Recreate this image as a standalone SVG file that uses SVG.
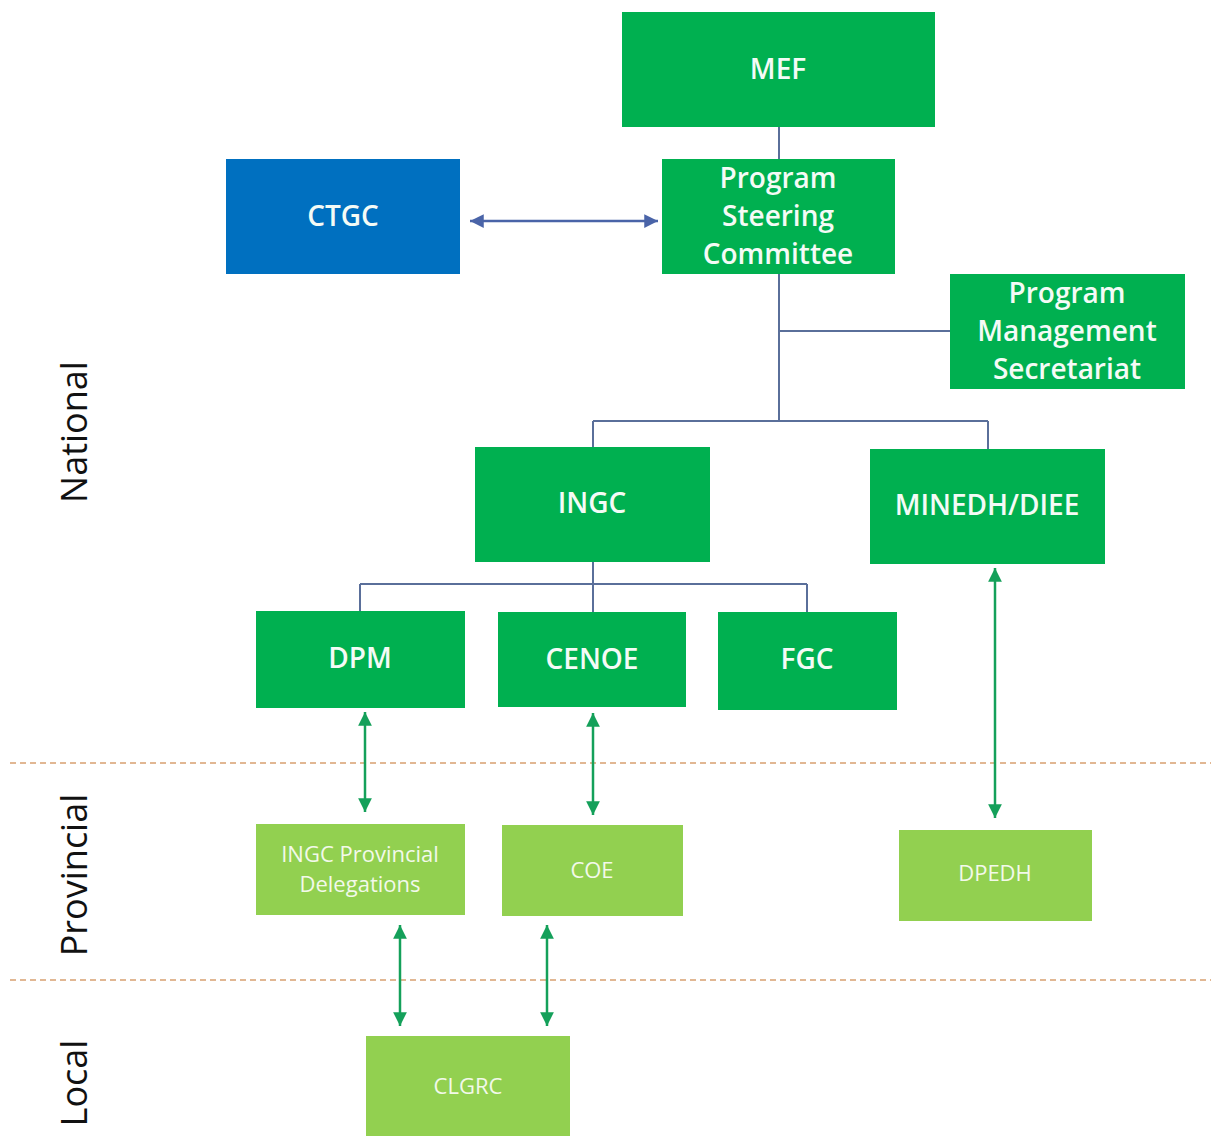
<svg xmlns="http://www.w3.org/2000/svg" width="1211" height="1136" viewBox="0 0 1211 1136">
<defs>
<style>
.dk{fill:#00b050}
.lt{fill:#92d050}
.bl{fill:#0070c0}
.t{font-family:"Open Sans","Liberation Sans",sans-serif;font-size:28px;font-weight:600;fill:#f4fbf6;text-anchor:middle;dominant-baseline:central}
.tl{font-family:"Open Sans","Liberation Sans",sans-serif;font-size:22px;fill:#f2f9ea;text-anchor:middle;dominant-baseline:central}
.lvl{font-family:"Open Sans","Liberation Sans",sans-serif;font-size:36px;fill:#111;text-anchor:middle;dominant-baseline:central}
.tree{fill:none;stroke:#5a6f9a;stroke-width:2}
.ga{stroke:#14a05a;stroke-width:2.5;marker-start:url(#gs);marker-end:url(#ge)}
.ba{stroke:#4a64a8;stroke-width:2.5;marker-start:url(#bs);marker-end:url(#be)}
.dash{stroke:#d8a070;stroke-width:1.5;stroke-dasharray:6 4}
</style>
<marker id="ge" viewBox="0 0 10 10" refX="10" refY="5" markerWidth="5.5" markerHeight="5.5" orient="auto" markerUnits="strokeWidth"><path d="M0,0L10,5L0,10z" fill="#14a05a"/></marker>
<marker id="gs" viewBox="0 0 10 10" refX="0" refY="5" markerWidth="5.5" markerHeight="5.5" orient="auto" markerUnits="strokeWidth"><path d="M10,0L0,5L10,10z" fill="#14a05a"/></marker>
<marker id="be" viewBox="0 0 10 10" refX="10" refY="5" markerWidth="5.5" markerHeight="5.5" orient="auto" markerUnits="strokeWidth"><path d="M0,0L10,5L0,10z" fill="#4a64a8"/></marker>
<marker id="bs" viewBox="0 0 10 10" refX="0" refY="5" markerWidth="5.5" markerHeight="5.5" orient="auto" markerUnits="strokeWidth"><path d="M10,0L0,5L10,10z" fill="#4a64a8"/></marker>
</defs>
<rect width="1211" height="1136" fill="#ffffff"/>
<g id="levels">
<line class="dash" x1="10" y1="763" x2="1211" y2="763"/>
<line class="dash" x1="10" y1="980" x2="1211" y2="980"/>
<text class="lvl" transform="translate(73,432) rotate(-90)">National</text>
<text class="lvl" transform="translate(73,875) rotate(-90)">Provincial</text>
<text class="lvl" transform="translate(73,1083) rotate(-90)">Local</text>
</g>
<g id="connectors">
<path class="tree" d="M779,127V159M779,274V421M779,331H950M593,421H988M593,421V447M988,421V449M593,562V584M360,584H807M360,584V611M593,584V612M807,584V612"/>
<line class="ba" x1="470" y1="221" x2="658" y2="221"/>
<line class="ga" x1="365" y1="712" x2="365" y2="812"/>
<line class="ga" x1="593" y1="713" x2="593" y2="815"/>
<line class="ga" x1="995" y1="568" x2="995" y2="818"/>
<line class="ga" x1="400" y1="925" x2="400" y2="1026"/>
<line class="ga" x1="547" y1="925" x2="547" y2="1026"/>
</g>
<g id="MEF"><rect class="dk" x="622" y="12" width="313" height="115"/><text class="t" x="778" y="68">MEF</text></g>
<g id="CTGC"><rect class="bl" x="226" y="159" width="234" height="115"/><text class="t" x="343" y="215">CTGC</text></g>
<g id="PSC"><rect class="dk" x="662" y="159" width="233" height="115"/><text class="t" x="778" y="177">Program</text><text class="t" x="778" y="215">Steering</text><text class="t" x="778" y="253">Committee</text></g>
<g id="PMS"><rect class="dk" x="950" y="274" width="235" height="115"/><text class="t" x="1067" y="292">Program</text><text class="t" x="1067" y="330">Management</text><text class="t" x="1067" y="368">Secretariat</text></g>
<g id="INGC"><rect class="dk" x="475" y="447" width="235" height="115"/><text class="t" x="592" y="502">INGC</text></g>
<g id="MINEDH"><rect class="dk" x="870" y="449" width="235" height="115"/><text class="t" x="987" y="504">MINEDH/DIEE</text></g>
<g id="DPM"><rect class="dk" x="256" y="611" width="209" height="97"/><text class="t" x="360" y="657">DPM</text></g>
<g id="CENOE"><rect class="dk" x="498" y="612" width="188" height="95"/><text class="t" x="592" y="658">CENOE</text></g>
<g id="FGC"><rect class="dk" x="718" y="612" width="179" height="98"/><text class="t" x="807" y="658">FGC</text></g>
<g id="INGCPD"><rect class="lt" x="256" y="824" width="209" height="91"/><text class="tl" x="360" y="853">INGC Provincial</text><text class="tl" x="360" y="883">Delegations</text></g>
<g id="COE"><rect class="lt" x="502" y="825" width="181" height="91"/><text class="tl" x="592" y="869">COE</text></g>
<g id="DPEDH"><rect class="lt" x="899" y="830" width="193" height="91"/><text class="tl" x="995" y="872">DPEDH</text></g>
<g id="CLGRC"><rect class="lt" x="366" y="1036" width="204" height="100"/><text class="tl" x="468" y="1085">CLGRC</text></g>
</svg>
